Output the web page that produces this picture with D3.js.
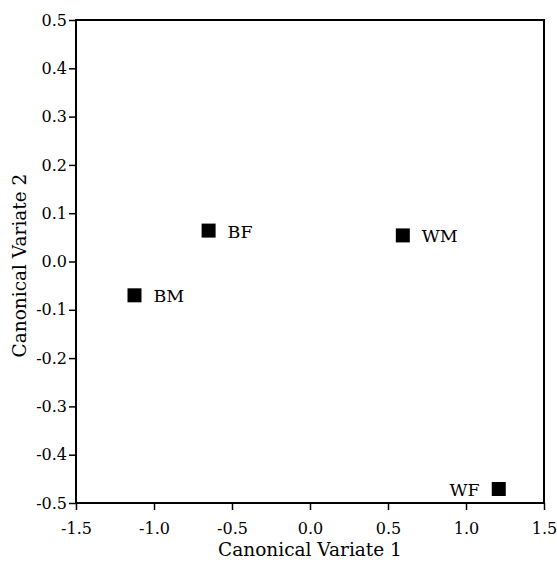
<!DOCTYPE html>
<html>
<head>
<meta charset="utf-8">
<script src="https://cdn.jsdelivr.net/npm/d3@7"></script>
<style>
  body { margin: 0; background: #fff; }
  svg text { font-family: "DejaVu Serif", "Liberation Serif", serif; fill: #000; }
</style>
</head>
<body>
<svg id="chart" width="557" height="562"></svg>
<script>
var groups = ["BM", "BF", "WM", "WF"];
var variate1 = [-1.125, -0.65, 0.595, 1.21];
var variate2 = [-0.07, 0.064, 0.054, -0.471];
var labelSide = ["right", "right", "right", "left"];
var xTicks = [-1.5, -1.0, -0.5, 0.0, 0.5, 1.0, 1.5];
var yTicks = [0.5, 0.4, 0.3, 0.2, 0.1, 0.0, -0.1, -0.2, -0.3, -0.4, -0.5];

var margin = {top: 20, right: 13, bottom: 59, left: 76},
	width = 557 - margin.left - margin.right,
	height = 562 - margin.top - margin.bottom;

var x = d3.scaleLinear().domain([-1.5, 1.5]).range([0, width]),
	y = d3.scaleLinear().domain([-0.5, 0.5]).range([height, 0]);

var fmt = function(d) { return d3.format(".1f")(d).replace("−", "-"); };

var svg = d3.select("#chart");
var g = svg.append("g")
	.attr("transform", "translate(" + margin.left + "," + margin.top + ")");

var xAxis = g.append("g")
	.attr("transform", "translate(0," + height + ")")
	.call(d3.axisBottom(x).tickValues(xTicks).tickFormat(fmt).tickSize(7).tickSizeOuter(0));
var yAxis = g.append("g")
	.call(d3.axisLeft(y).tickValues(yTicks).tickFormat(fmt).tickSize(7).tickSizeOuter(0));

[xAxis, yAxis].forEach(function(a) {
	a.attr("font-family", null).attr("font-size", null);
	a.select(".domain").remove();
	a.selectAll("line").attr("stroke", "#000").attr("stroke-width", 1.5);
	a.selectAll("text").attr("font-size", 16);
});
xAxis.selectAll("text").attr("dy", "1.3em");
yAxis.selectAll("text").attr("x", -9);

g.append("rect")
	.attr("width", width)
	.attr("height", height)
	.attr("fill", "none")
	.attr("stroke", "#000")
	.attr("stroke-width", 2);

var sq = 14;
var pts = g.selectAll(".pt")
	.data(groups)
	.enter().append("g")
	.attr("class", "pt")
	.attr("transform", function(d, i) { return "translate(" + x(variate1[i]) + "," + y(variate2[i]) + ")"; });

pts.append("rect")
	.attr("x", -sq / 2)
	.attr("y", -sq / 2)
	.attr("width", sq)
	.attr("height", sq)
	.attr("fill", "#000");

pts.append("text")
	.attr("x", function(d, i) { return labelSide[i] === "left" ? -19 : 19; })
	.attr("y", 7)
	.attr("text-anchor", function(d, i) { return labelSide[i] === "left" ? "end" : "start"; })
	.attr("font-size", 17.5)
	.text(function(d) { return d; });

svg.append("text")
	.attr("x", margin.left + width / 2)
	.attr("y", 556)
	.attr("text-anchor", "middle")
	.attr("font-size", 18.5)
	.text("Canonical Variate 1");

svg.append("text")
	.attr("transform", "translate(26," + (margin.top + height / 2 + 4) + ") rotate(-90)")
	.attr("text-anchor", "middle")
	.attr("font-size", 18.5)
	.text("Canonical Variate 2");
</script>
</body>
</html>
